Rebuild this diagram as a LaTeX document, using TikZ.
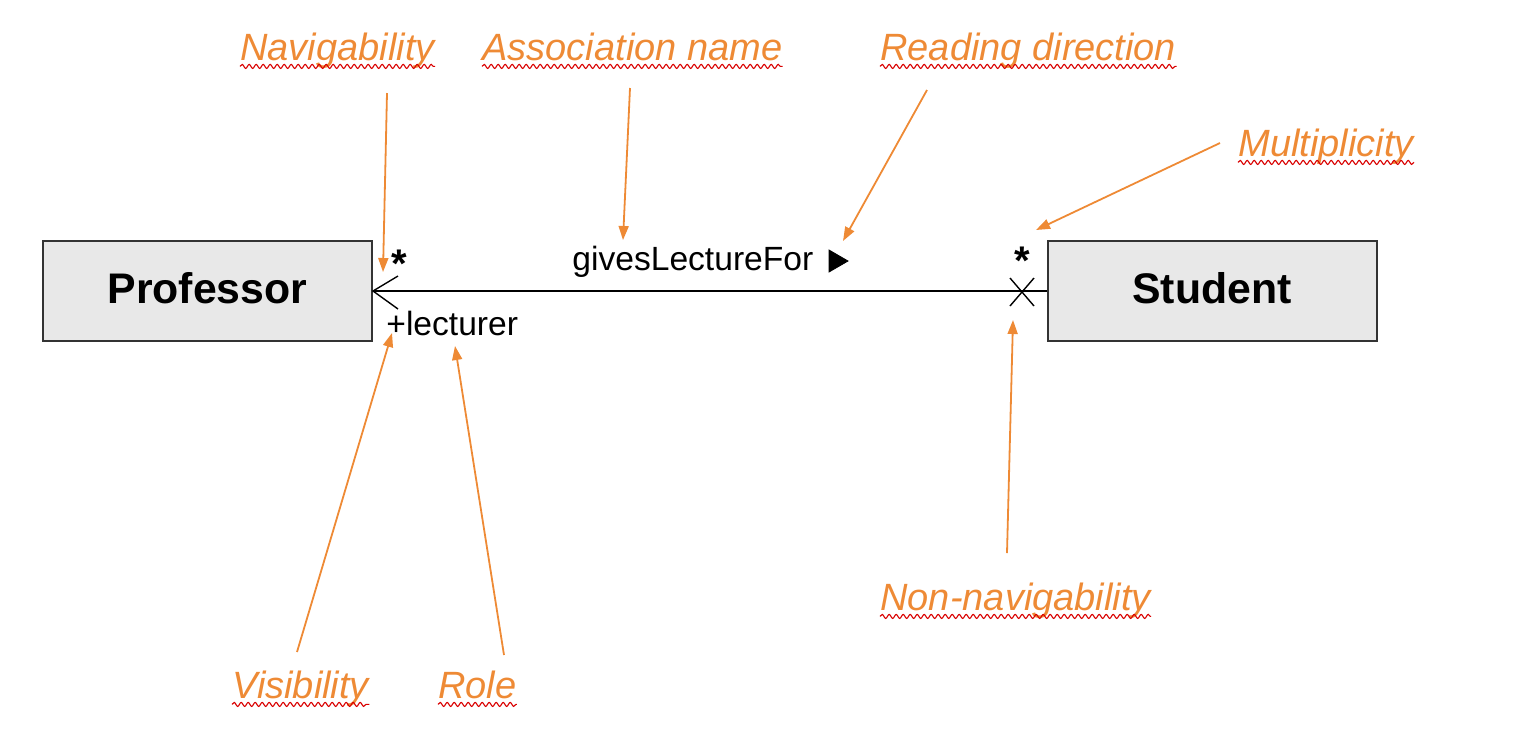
\documentclass[tikz,border=0pt]{standalone}
\usepackage{fontspec}
\setmainfont{Liberation Sans}
\usetikzlibrary{arrows.meta,decorations.pathmorphing}

\definecolor{noteorange}{HTML}{EE8A35}
\definecolor{boxgray}{HTML}{E8E8E8}

\tikzset{
  classbox/.style={draw=black!80, line width=1pt, fill=boxgray, minimum width=164.5pt, minimum height=50pt, inner sep=0pt, text depth=3pt, font=\fontsize{21.4}{24}\selectfont\bfseries},
  assoctext/.style={inner sep=0pt, font=\fontsize{16.8}{19}\selectfont},
  note/.style={inner sep=0pt, anchor=base west, text=noteorange, font=\fontsize{19}{22}\selectfont\itshape},
  pointer/.style={draw=noteorange, line width=0.9pt, -{Triangle[length=7pt,width=5pt]}},
  squiggle/.style={draw=red!85!black, line width=0.55pt, decorate, decoration={snake, amplitude=1pt, segment length=3.5pt}}
}

\begin{document}
\begin{tikzpicture}[x=0.5pt, y=-0.5pt]
		\useasboundingbox (0, 0) rectangle (1520, 736);

		% classes
		\node[classbox] (prof) at (207.5, 291) {Professor};
		\node[classbox] (stud) at (1212, 291) {Student};

		% association
		\draw[line width=0.7pt] (prof) -- (stud);
		\coordinate (H1) at (398, 276);
		\coordinate (H2) at (398, 309);
		\draw[line width=0.7pt] (H1) -- (prof.east) -- (H2);
		\coordinate (X1) at (1010, 278);
		\coordinate (X2) at (1034, 306);
		\coordinate (X3) at (1010, 306);
		\coordinate (X4) at (1034, 278);
		\draw[line width=0.7pt] (X1) -- (X2);
		\draw[line width=0.7pt] (X3) -- (X4);

		\node[assoctext, font=\fontsize{20}{22}\selectfont\bfseries] (mprof) at (399, 264) {*};
		\node[assoctext, font=\fontsize{20}{22}\selectfont\bfseries] (mstud) at (1022, 261) {*};
		\node[assoctext, anchor=base west] (role) at (386, 335) {+lecturer};
		\node[assoctext, anchor=base west] (aname) at (572, 270) {givesLectureFor};
		\filldraw[black] (829, 250) -- (848, 261) -- (829, 272) -- cycle;

		% annotations
		\node[note] (nav) at (240, 60) {Navigability};
		\node[note] (asn) at (482, 60) {Association name};
		\node[note] (rdir) at (880, 60) {Reading direction};
		\node[note] (mult) at (1238, 156) {Multiplicity};
		\node[note] (nonnav) at (880, 610) {Non-navigability};
		\node[note] (vis) at (232, 698) {Visibility};
		\node[note] (rol) at (438, 698) {Role};

		\foreach \n in {nav, asn, rdir, mult, nonnav, vis, rol}
			\draw[squiggle] ([yshift=-3.2pt]\n.base west) -- ([yshift=-3.2pt]\n.base east);

		\coordinate (A1) at (387, 93);   \coordinate (B1) at (383, 272);
		\coordinate (A2) at (630, 88);   \coordinate (B2) at (623, 240);
		\coordinate (A3) at (927, 90);   \coordinate (B3) at (843, 241);
		\coordinate (A4) at (1220, 143); \coordinate (B4) at (1036, 230);
		\coordinate (A5) at (1007, 553); \coordinate (B5) at (1013, 320);
		\coordinate (A6) at (297, 652);  \coordinate (B6) at (392, 333);
		\coordinate (A7) at (504, 655);  \coordinate (B7) at (455, 346);

		\draw[pointer] (A1) -- (B1);
		\draw[pointer] (A2) -- (B2);
		\draw[pointer] (A3) -- (B3);
		\draw[pointer] (A4) -- (B4);
		\draw[pointer] (A5) -- (B5);
		\draw[pointer] (A6) -- (B6);
		\draw[pointer] (A7) -- (B7);
	\end{tikzpicture}
\end{document}
